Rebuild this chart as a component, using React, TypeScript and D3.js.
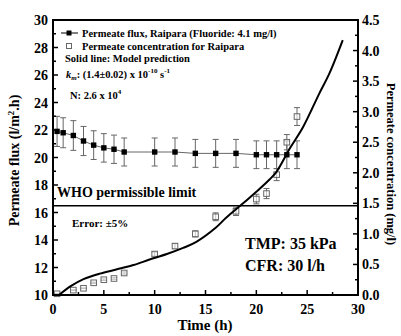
import React from "react";
import * as d3 from "d3";

const fluxTime = [0.4, 1, 2, 3, 4, 5, 6, 7, 10, 12, 14, 16, 18, 20, 21, 22, 23, 24];
const fluxValues = [21.9, 21.8, 21.6, 21.2, 20.9, 20.7, 20.6, 20.4, 20.4, 20.4, 20.3, 20.3, 20.3, 20.2, 20.2, 20.2, 20.2, 20.2];

const concTime = [0.4, 2, 3, 4, 5, 6, 7, 10, 12, 14, 16, 18, 20, 21, 22, 23, 24];
const concValues = [0.02, 0.08, 0.11, 0.2, 0.25, 0.27, 0.36, 0.67, 0.8, 1.0, 1.28, 1.37, 1.57, 1.66, 1.97, 2.5, 2.92];

const modelTime = [0.6, 1.7, 3.0, 4.6, 6.3, 7.9, 9.5, 11.2, 12.8, 14.1, 16.0, 17.0, 18.7, 20.0, 21.3, 22.0, 23.3, 24.6, 26.2, 27.2, 28.5];
const modelValues = [0, 0.14, 0.26, 0.35, 0.42, 0.49, 0.58, 0.67, 0.77, 0.87, 1.1, 1.26, 1.5, 1.69, 1.89, 2.02, 2.4, 2.75, 3.3, 3.63, 4.17];

const xTicks = [0, 5, 10, 15, 20, 25, 30];
const leftTicks = [10, 12, 14, 16, 18, 20, 22, 24, 26, 28, 30];
const rightTicks = [0, 0.5, 1, 1.5, 2, 2.5, 3, 3.5, 4, 4.5];
const whoLimit = 16.5;
const errorFraction = 0.05;

const W = 401, H = 336;
const L = 53, R = 358, T = 20, B = 295;
const FONT = "'Liberation Serif', 'Times New Roman', serif";

export default function App() {
  const x = d3.scaleLinear().domain([0, 30]).range([L, R]);
  const yL = d3.scaleLinear().domain([10, 30]).range([B, T]);
  const yR = d3.scaleLinear().domain([0, 4.5]).range([B, T]);

  const fluxLine = d3.line<number>().x((_, i) => x(fluxTime[i])).y((d) => yL(d))(fluxValues) || "";
  const modelLine = d3
    .line<number>()
    .x((_, i) => x(modelTime[i]))
    .y((d) => yR(d))
    .curve(d3.curveCatmullRom.alpha(0.5))(modelValues) || "";

  const xMinor = d3.range(0, 30.01, 2.5);
  const lMinor = d3.range(10, 30.01, 1);
  const rMinor = d3.range(0, 4.501, 0.25);
  const grey = "#666";
  const cap = 3;
  const sq = 2.7;

  return (
    <svg width={W} height={H} style={{ position: "absolute", left: 0, top: 0, background: "#fff" }} fontFamily={FONT} fontWeight="bold">
      {/* WHO line */}
      <line x1={L} x2={R} y1={yL(whoLimit)} y2={yL(whoLimit)} stroke="#000" strokeWidth={1.5} />

      {/* flux series */}
      <path d={fluxLine} fill="none" stroke={grey} strokeWidth={1} />
      {fluxValues.map((v, i) => {
        const cx = x(fluxTime[i]);
        const e = v * errorFraction;
        return (
          <g key={"f" + i} stroke={grey} strokeWidth={1}>
            <line x1={cx} x2={cx} y1={yL(v + e)} y2={yL(v - e)} />
            <line x1={cx - cap} x2={cx + cap} y1={yL(v + e)} y2={yL(v + e)} />
            <line x1={cx - cap} x2={cx + cap} y1={yL(v - e)} y2={yL(v - e)} />
          </g>
        );
      })}
      {fluxValues.map((v, i) => (
        <rect key={"fs" + i} x={x(fluxTime[i]) - sq} y={yL(v) - sq} width={sq * 2} height={sq * 2} fill="#000" />
      ))}

      {/* concentration series */}
      {concValues.map((v, i) => {
        const cx = x(concTime[i]);
        const e = v * errorFraction;
        return (
          <g key={"c" + i} stroke={grey} strokeWidth={1}>
            <line x1={cx} x2={cx} y1={yR(v + e)} y2={yR(v - e)} />
            <line x1={cx - cap} x2={cx + cap} y1={yR(v + e)} y2={yR(v + e)} />
            <line x1={cx - cap} x2={cx + cap} y1={yR(v - e)} y2={yR(v - e)} />
          </g>
        );
      })}
      {concValues.map((v, i) => (
        <rect key={"cs" + i} x={x(concTime[i]) - 2.8} y={yR(v) - 2.8} width={5.6} height={5.6} fill="#fff" fillOpacity={0.6} stroke={grey} strokeWidth={1} />
      ))}

      {/* model line */}
      <path d={modelLine} fill="none" stroke="#000" strokeWidth={2} />

      {/* frame */}
      <rect x={L} y={T} width={R - L} height={B - T} fill="none" stroke="#000" strokeWidth={2} />

      {/* ticks */}
      <g stroke="#000" strokeWidth={1.5}>
        {xMinor.map((t) => {
          const major = t % 5 === 0;
          return <line key={"xt" + t} x1={x(t)} x2={x(t)} y1={B} y2={B - (major ? 5 : 3)} />;
        })}
        {lMinor.map((t) => {
          const major = t % 2 === 0;
          return <line key={"lt" + t} x1={L} x2={L + (major ? 5 : 3)} y1={yL(t)} y2={yL(t)} />;
        })}
        {rMinor.map((t) => {
          const major = Math.abs((t * 2) % 1) < 1e-6;
          return <line key={"rt" + t} x1={R} x2={R - (major ? 5 : 3)} y1={yR(t)} y2={yR(t)} />;
        })}
      </g>

      {/* tick labels */}
      <g fontSize={14} fill="#000">
        {xTicks.map((t) => (
          <text key={"xl" + t} x={x(t)} y={B + 19} textAnchor="middle">{t}</text>
        ))}
        {leftTicks.map((t) => (
          <text key={"ll" + t} x={L - 5} y={yL(t) + 5} textAnchor="end">{t}</text>
        ))}
        {rightTicks.map((t) => (
          <text key={"rl" + t} x={R + 4} y={yR(t) + 5} textAnchor="start">{t.toFixed(1)}</text>
        ))}
      </g>

      {/* axis titles */}
      <text x={205} y={330} textAnchor="middle" fontSize={15}>Time (h)</text>
      <text transform={`translate(19,${(T + B) / 2 + 3}) rotate(-90)`} textAnchor="middle" fontSize={14}>
        Permeate flux (l/m<tspan fontSize={9} dy={-5}>2</tspan><tspan dy={5}>.h)</tspan>
      </text>
      <text transform={`translate(387,164) rotate(90)`} textAnchor="middle" fontSize={12.5}>
        Permeate concentration (mg/l)
      </text>

      {/* legend */}
      <line x1={61} x2={78} y1={33} y2={33} stroke="#000" strokeWidth={1} />
      <rect x={66.5} y={30.5} width={5} height={5} fill="#000" />
      <rect x={66.5} y={43.5} width={5} height={5} fill="#fff" stroke={grey} strokeWidth={1} />
      <g fontSize={10.5} fill="#000">
        <text x={82} y={37}>Permeate flux, Raipara (Fluoride: 4.1 mg/l)</text>
        <text x={82} y={50}>Permeate concentration for Raipara</text>
        <text x={65} y={62}>Solid line: Model prediction</text>
        <text x={66} y={78}>
          <tspan fontStyle="italic">k</tspan>
          <tspan fontStyle="italic" fontSize={7} dy={2}>m</tspan>
          <tspan dy={-2}>: (1.4±0.02) x 10</tspan>
          <tspan fontSize={7} dy={-5}>-10</tspan>
          <tspan dy={5}> s</tspan>
          <tspan fontSize={7} dy={-5}>-1</tspan>
        </text>
        <text x={70} y={99}>
          N: 2.6 x 10<tspan fontSize={7} dy={-5}>4</tspan>
        </text>
      </g>

      {/* annotations */}
      <text x={57} y={197} fontSize={14}>WHO permissible limit</text>
      <text x={72} y={227} fontSize={11}>Error: ±5%</text>
      <text x={245} y={249} fontSize={16}>TMP: 35 kPa</text>
      <text x={245} y={271} fontSize={16}>CFR: 30 l/h</text>
    </svg>
  );
}
